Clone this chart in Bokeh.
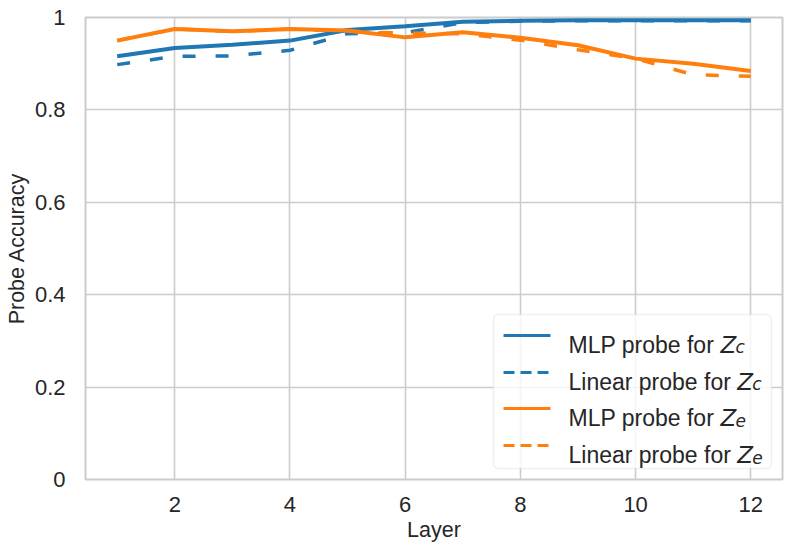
from bokeh.plotting import figure
from bokeh.models import Range1d, FixedTicker, Label, Arrow, BoxAnnotation
from bokeh.embed import file_html
from bokeh.resources import INLINE

layers = list(range(1, 13))
mlp_zc = [0.916, 0.934, 0.941, 0.950, 0.973, 0.981, 0.991, 0.993, 0.994, 0.994, 0.994, 0.994]
lin_zc = [0.898, 0.916, 0.917, 0.929, 0.965, 0.967, 0.989, 0.992, 0.993, 0.993, 0.993, 0.993]
mlp_ze = [0.950, 0.975, 0.970, 0.975, 0.972, 0.957, 0.968, 0.956, 0.940, 0.911, 0.900, 0.884]
lin_ze = [0.950, 0.975, 0.970, 0.975, 0.970, 0.966, 0.965, 0.951, 0.930, 0.911, 0.876, 0.873]

x_ticks = [2, 4, 6, 8, 10, 12]
y_ticks = [0, 0.2, 0.4, 0.6, 0.8, 1]
y_tick_labels = ["0", "0.2", "0.4", "0.6", "0.8", "1"]

legend_prefix = ["MLP probe for ", "Linear probe for ", "MLP probe for ", "Linear probe for "]
legend_sub = ["c", "c", "e", "e"]

BLUE = "#1f77b4"
ORANGE = "#ff7f0e"
TXT = "#262626"
GRID = "#cccccc"
FONT = "Liberation Sans"

p = figure(width=792, height=552, output_backend="svg", toolbar_location=None,
           x_range=Range1d(0.45, 12.55), y_range=Range1d(0, 1),
           min_border_left=85, min_border_right=10, min_border_top=17, min_border_bottom=73)
p.background_fill_color = "white"
p.border_fill_color = "white"
p.outline_line_color = GRID
p.outline_line_width = 2

p.xaxis.ticker = FixedTicker(ticks=x_ticks)
p.yaxis.ticker = FixedTicker(ticks=y_ticks)
p.yaxis.major_label_overrides = {t: l for t, l in zip(y_ticks, y_tick_labels)}
for ax in (p.xaxis, p.yaxis):
    ax.axis_line_color = None
    ax.major_tick_line_color = None
    ax.minor_tick_line_color = None
    ax.major_label_text_font = FONT
    ax.major_label_text_font_size = "22px"
    ax.major_label_text_color = TXT
    ax.axis_label_text_font = FONT
    ax.axis_label_text_font_size = "21.5px"
    ax.axis_label_text_font_style = "normal"
    ax.axis_label_text_color = TXT
p.xaxis.axis_label = "Layer"
p.yaxis.axis_label = "Probe Accuracy"
p.xaxis.major_label_standoff = 11
p.xaxis.axis_label_standoff = 3
p.yaxis.major_label_standoff = 14
p.yaxis.axis_label_standoff = 3
p.grid.grid_line_color = GRID
p.grid.grid_line_width = 1.6

p.line(layers, mlp_zc, line_color=BLUE, line_width=4)
p.line(layers, lin_zc, line_color=BLUE, line_width=3.5, line_dash="13 20")
p.line(layers, mlp_ze, line_color=ORANGE, line_width=4)
p.line(layers, lin_ze, line_color=ORANGE, line_width=3.5, line_dash="13 20")

# legend (screen units relative to the plot frame)
p.add_layout(BoxAnnotation(left=408, right=686, bottom=11, top=165,
                           left_units="screen", right_units="screen",
                           bottom_units="screen", top_units="screen",
                           fill_color="white", fill_alpha=0.8,
                           line_color=GRID, line_width=1.5, border_radius=5))
colors = [BLUE, BLUE, ORANGE, ORANGE]
dashes = ["solid", "11 6", "solid", "11 6"]
baselines = [135, 98, 62, 25]
char_w = {"MLP probe for ": 6.614, "Linear probe for ": 7.337}
fs = 23
for pre, sub, col, dash, b in zip(legend_prefix, legend_sub, colors, dashes, baselines):
    ly = b + 9
    p.add_layout(Arrow(x_start=418, y_start=ly, x_end=465, y_end=ly,
                       start_units="screen", end_units="screen", end=None,
                       line_color=col, line_width=2.8, line_dash=dash))
    p.add_layout(Label(x=483, y=b, x_units="screen", y_units="screen", text=pre,
                       text_font=FONT, text_font_size=f"{fs}px", text_color=TXT,
                       text_baseline="alphabetic", text_align="left"))
    zx = 483 + char_w[pre] * fs
    p.add_layout(Label(x=zx, y=b, x_units="screen", y_units="screen", text="Z",
                       text_font="DejaVu Sans", text_font_style="italic",
                       text_font_size=f"{fs}px", text_color=TXT,
                       text_baseline="alphabetic", text_align="left"))
    p.add_layout(Label(x=zx + 15, y=b - 2.5, x_units="screen", y_units="screen", text=sub,
                       text_font="DejaVu Sans", text_font_style="italic",
                       text_font_size="17px", text_color=TXT,
                       text_baseline="alphabetic", text_align="left"))

open("out.html", "w").write(file_html(p, INLINE))
